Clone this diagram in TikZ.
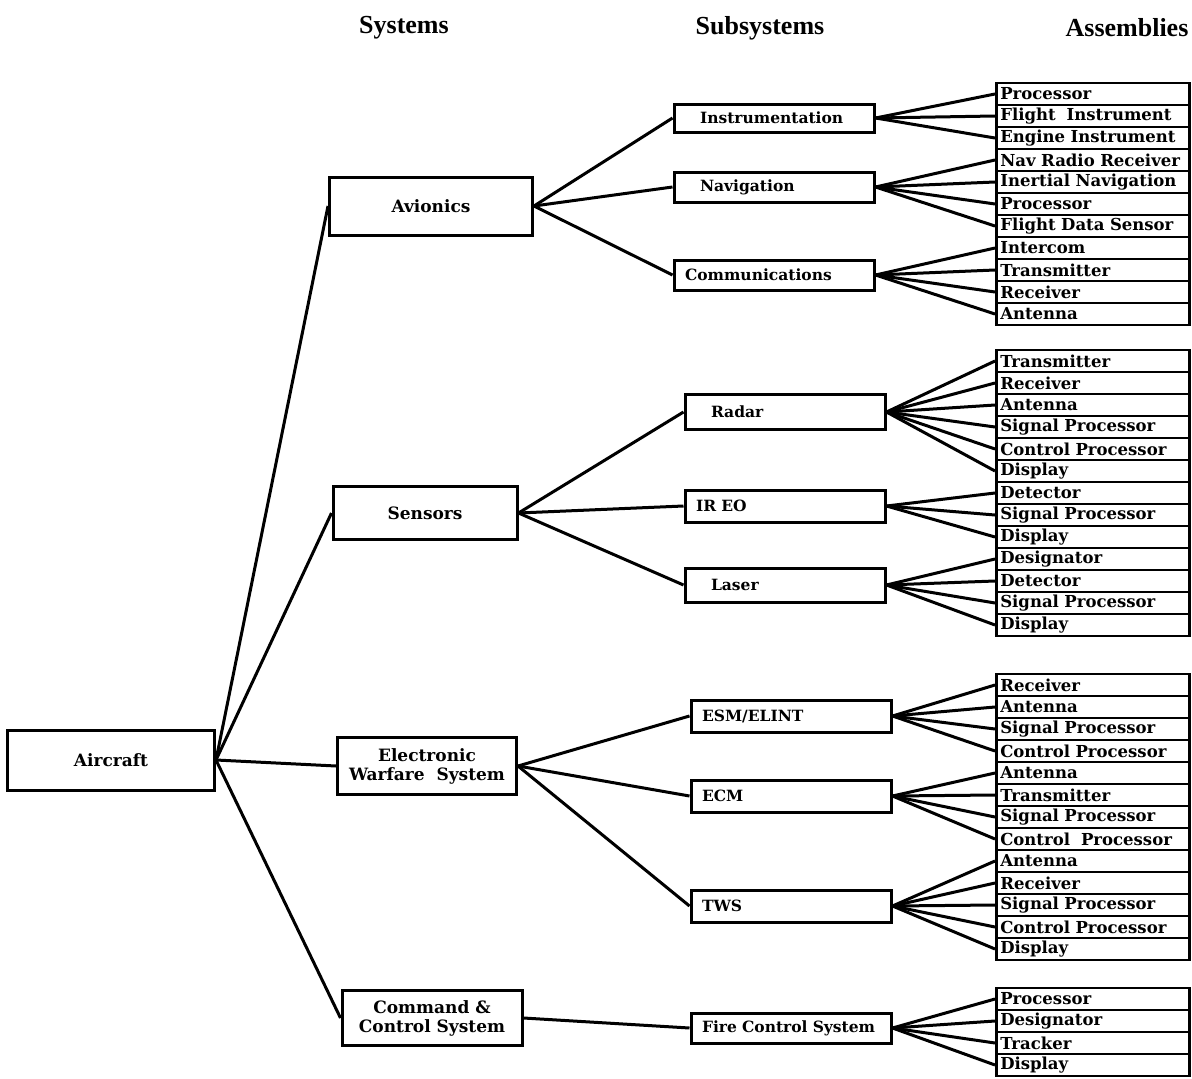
\documentclass[tikz,border=0pt]{standalone}
\usepackage{fontspec}
\setmainfont{Liberation Serif}
\newfontfamily\boxfont{DejaVu Serif}

\tikzset{
  thickline/.style={line width=3pt},
  sysbox/.style={draw, line width=3pt, align=center, inner sep=2pt,
    font=\boxfont\bfseries\fontsize{17}{19}\selectfont},
  subbox/.style={draw, line width=3pt, align=left, inner xsep=11pt, inner ysep=1pt,
    text width=178pt, font=\boxfont\bfseries\fontsize{15.5}{17}\selectfont},
  widepad/.style={inner xsep=26pt, text width=148pt},
  asmbox/.style={draw, line width=2.6pt, align=left, anchor=west, inner xsep=4pt,
    inner ysep=0pt, text width=185pt, minimum height=22pt,
    font=\boxfont\bfseries\fontsize{16.5}{18}\selectfont},
  head/.style={font=\bfseries\fontsize{26}{30}\selectfont}
}

\begin{document}
\begin{tikzpicture}[x=1pt, y=-1pt]

\useasboundingbox (0,0) rectangle (1192,1079);

% column heads
\node (hsys) [head] at (404,28) {Systems};
\node (hsub) [head] at (760,28) {Subsystems};
\node (hasm) [head] at (1127,28) {Assemblies};

% aircraft and systems
\node (aircraft) [sysbox, minimum width=207pt, minimum height=60pt] at (111,760) {Aircraft};
\node (avionics) [sysbox, minimum width=203pt, minimum height=58pt] at (431,206) {Avionics};
\node (sensors) [sysbox, minimum width=184pt, minimum height=53pt] at (425,513) {Sensors};
\node (ews) [sysbox, minimum width=179pt, minimum height=57pt] at (427,766) {Electronic\\Warfare\ \ System};
\node (ccs) [sysbox, minimum width=180pt, minimum height=55pt] at (432,1018) {Command \&\\Control System};

% subsystems
\node (instr) [subbox, widepad, minimum height=28pt] at (774,118) {Instrumentation};
\node (nav) [subbox, widepad, minimum height=30pt] at (774,187) {Navigation};
\node (comm) [subbox, minimum height=30pt] at (774,275) {Communications};
\node (radar) [subbox, widepad, minimum height=35pt] at (785,412) {Radar};
\node (ireo) [subbox, minimum height=32pt] at (785,506) {IR EO};
\node (laser) [subbox, widepad, minimum height=34pt] at (785,585) {Laser};
\node (esm) [subbox, minimum height=32pt] at (791,716) {ESM/ELINT};
\node (ecm) [subbox, minimum height=32pt] at (791,796) {ECM};
\node (tws) [subbox, minimum height=32pt] at (791,906) {TWS};
\node (fcs) [subbox, minimum height=30pt] at (791,1028) {Fire Control System};

% assemblies, avionics group
\node (a1) [asmbox] at (995,94) {Processor};
\node (a2) [asmbox] at (995,116) {Flight\ \ Instrument};
\node (a3) [asmbox] at (995,138) {Engine Instrument};
\node (a4) [asmbox] at (995,160) {Nav Radio Receiver};
\node (a5) [asmbox] at (995,182) {Inertial Navigation};
\node (a6) [asmbox] at (995,204) {Processor};
\node (a7) [asmbox] at (995,226) {Flight Data Sensor};
\node (a8) [asmbox] at (995,248) {Intercom};
\node (a9) [asmbox] at (995,270) {Transmitter};
\node (a10) [asmbox] at (995,292) {Receiver};
\node (a11) [asmbox] at (995,314) {Antenna};

% assemblies, sensors group
\node (b1) [asmbox] at (995,361) {Transmitter};
\node (b2) [asmbox] at (995,383) {Receiver};
\node (b3) [asmbox] at (995,405) {Antenna};
\node (b4) [asmbox] at (995,427) {Signal Processor};
\node (b5) [asmbox] at (995,449) {Control Processor};
\node (b6) [asmbox] at (995,471) {Display};
\node (b7) [asmbox] at (995,493) {Detector};
\node (b8) [asmbox] at (995,515) {Signal Processor};
\node (b9) [asmbox] at (995,537) {Display};
\node (b10) [asmbox] at (995,559) {Designator};
\node (b11) [asmbox] at (995,581) {Detector};
\node (b12) [asmbox] at (995,603) {Signal Processor};
\node (b13) [asmbox] at (995,625) {Display};

% assemblies, electronic warfare group
\node (c1) [asmbox] at (995,685) {Receiver};
\node (c2) [asmbox] at (995,707) {Antenna};
\node (c3) [asmbox] at (995,729) {Signal Processor};
\node (c4) [asmbox] at (995,751) {Control Processor};
\node (c5) [asmbox] at (995,773) {Antenna};
\node (c6) [asmbox] at (995,795) {Transmitter};
\node (c7) [asmbox] at (995,817) {Signal Processor};
\node (c8) [asmbox] at (995,839) {Control\ \ Processor};
\node (c9) [asmbox] at (995,861) {Antenna};
\node (c10) [asmbox] at (995,883) {Receiver};
\node (c11) [asmbox] at (995,905) {Signal Processor};
\node (c12) [asmbox] at (995,927) {Control Processor};
\node (c13) [asmbox] at (995,949) {Display};

% assemblies, command and control group
\node (d1) [asmbox] at (995,999) {Processor};
\node (d2) [asmbox] at (995,1021) {Designator};
\node (d3) [asmbox] at (995,1043) {Tracker};
\node (d4) [asmbox] at (995,1065) {Display};

% aircraft to systems
\draw [thickline] (aircraft.east) -- (avionics.west);
\draw [thickline] (aircraft.east) -- (sensors.west);
\draw [thickline] (aircraft.east) -- (ews.west);
\draw [thickline] (aircraft.east) -- (ccs.west);

% systems to subsystems
\draw [thickline] (avionics.east) -- (instr.west);
\draw [thickline] (avionics.east) -- (nav.west);
\draw [thickline] (avionics.east) -- (comm.west);
\draw [thickline] (sensors.east) -- (radar.west);
\draw [thickline] (sensors.east) -- (ireo.west);
\draw [thickline] (sensors.east) -- (laser.west);
\draw [thickline] (ews.east) -- (esm.west);
\draw [thickline] (ews.east) -- (ecm.west);
\draw [thickline] (ews.east) -- (tws.west);
\draw [thickline] (ccs.east) -- (fcs.west);

% subsystems to assemblies
\foreach \i in {1,2,3} \draw [thickline] (instr.east) -- (a\i.west);
\foreach \i in {4,5,6,7} \draw [thickline] (nav.east) -- (a\i.west);
\foreach \i in {8,9,10,11} \draw [thickline] (comm.east) -- (a\i.west);
\foreach \i in {1,...,6} \draw [thickline] (radar.east) -- (b\i.west);
\foreach \i in {7,8,9} \draw [thickline] (ireo.east) -- (b\i.west);
\foreach \i in {10,...,13} \draw [thickline] (laser.east) -- (b\i.west);
\foreach \i in {1,...,4} \draw [thickline] (esm.east) -- (c\i.west);
\foreach \i in {5,...,8} \draw [thickline] (ecm.east) -- (c\i.west);
\foreach \i in {9,...,13} \draw [thickline] (tws.east) -- (c\i.west);
\foreach \i in {1,...,4} \draw [thickline] (fcs.east) -- (d\i.west);

\end{tikzpicture}
\end{document}
